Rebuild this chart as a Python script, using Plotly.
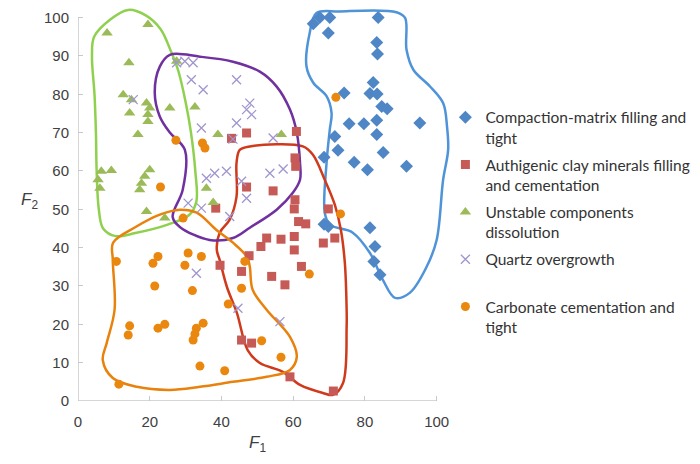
import plotly.graph_objects as go

# ---- data ----
blue_x = [65.6, 67.4, 70.2, 83.7, 69.8, 83.3, 83.5, 82.3, 74.2, 81.4, 83.4, 84.7, 86.2, 75.6, 79.7, 83.3,
          95.3, 83.3, 71.6, 72.5, 85.1, 68.6, 77.0, 80.7, 91.6, 68.6, 81.4, 82.8, 82.5, 84.2, 69.8]
blue_y = [98.4, 100, 100, 100, 96, 93.5, 90.5, 83.1, 80.3, 80.2, 80.1, 76.8, 76.2, 72.3, 72.3, 73.2,
          72.5, 69.5, 69.0, 65.4, 64.8, 63.6, 62.3, 60.3, 61.2, 46.1, 45.2, 40.3, 36.4, 32.9, 45.5]

red_x = [42.8, 47.0, 60.9, 60.5, 60.7, 47.0, 54.4, 60.5, 60.3, 38.4, 61.5, 63.5, 69.8, 52.6, 56.6, 60.3,
         51.0, 60.3, 68.4, 71.6, 47.7, 39.6, 45.6, 62.3, 54.0, 57.7, 45.6, 48.4, 59.1, 71.2]
red_y = [68.5, 69.9, 70.3, 63.4, 61.2, 55.8, 54.8, 52.5, 50.1, 50.3, 46.8, 46.2, 50.1, 42.5, 42.2, 42.9,
         40.3, 39.4, 41.2, 42.5, 37.9, 35.4, 33.8, 35.1, 32.5, 30.3, 15.9, 15.1, 6.3, 2.6]

green_x = [8.1, 19.5, 14.2, 27.5, 12.6, 14.9, 19.1, 20.0, 14.4, 19.5, 25.6, 32.6, 19.5, 16.7, 6.5, 9.3,
           5.6, 6.1, 20.0, 18.6, 17.7, 17.2, 19.1, 24.2, 39.0, 56.7, 35.8, 37.7]
green_y = [96, 98.2, 88.2, 88.6, 79.9, 78.6, 77.7, 76.4, 75.1, 74.7, 76.4, 76.7, 72.9, 69.5, 59.9, 60.1,
           57.7, 55.5, 60.3, 58.6, 56.8, 55.1, 49.4, 47.7, 69.5, 69.5, 55.5, 51.8]

purple_x = [15.4, 27.5, 29.8, 32.1, 31.6, 34.9, 34.4, 44.2, 47.9, 47.0, 48.4, 44.2, 43.2, 54.4, 38.1,
            41.4, 35.8, 53.5, 57.2, 45.6, 47.0, 34.4, 42.3, 30.7, 33.0, 44.6, 56.3]
purple_y = [78.6, 88.2, 88.6, 88.2, 83.8, 81.2, 71.2, 83.8, 77.7, 76.0, 74.7, 72.5, 68.3, 68.6, 59.4,
            59.9, 58.1, 59.4, 60.5, 57.3, 52.9, 50.3, 48.1, 51.6, 33.3, 24.2, 20.7]

orange_x = [71.9, 73.2, 64.5, 27.3, 34.7, 35.4, 23.0, 29.3, 10.7, 22.3, 30.7, 34.4, 29.8, 20.9, 21.4,
            31.9, 14.4, 14.0, 22.3, 24.2, 33.0, 34.9, 32.1, 32.6, 34.0, 11.4, 46.5, 45.6, 41.9, 40.9,
            51.2, 56.6]
orange_y = [79.2, 48.8, 33.1, 68.0, 67.3, 66.0, 55.8, 47.7, 36.4, 37.7, 38.6, 37.7, 35.4, 35.9, 30.0,
            28.8, 19.6, 17.2, 19.0, 20.0, 19.0, 20.3, 15.9, 17.5, 9.1, 4.4, 36.4, 29.4, 25.3, 7.9,
            15.7, 11.4]

# hand-drawn group outlines (data units)
blue_hull_x = [66.5, 73.0, 88.8, 91.2, 91.6, 93.5, 98.1, 101.8, 102.9, 103.2, 101.8, 100.0, 97.2, 92.5,
               88.4, 85.0, 81.4, 76.6, 70.2, 68.8, 69.3, 70.2, 70.7, 69.3, 65.6, 63.7, 64.6, 66.5]
blue_hull_y = [101.2, 101.6, 101.4, 99.9, 91.6, 86.4, 82.1, 77.7, 71.5, 65.5, 57.7, 42.0, 35.0, 28.2,
               26.9, 31.6, 38.6, 43.9, 46.0, 49.1, 62.1, 70.8, 75.1, 79.5, 83.0, 87.3, 96.0, 101.2]

red_hull_x = [45.1, 47.9, 62.7, 65.5, 68.8, 71.6, 73.3, 74.4, 74.9, 74.9, 73.9, 71.1, 68.3, 61.9, 57.1,
              50.7, 47.3, 44.3, 41.5, 39.5, 38.7, 39.5, 42.3, 44.2, 44.2, 45.1]
red_hull_y = [65.5, 66.4, 66.4, 64.2, 57.7, 51.2, 44.6, 36.0, 23.8, 19.3, 4.7, 1.6, 2.1, 4.2, 7.6,
              9.9, 13.3, 23.0, 29.8, 36.8, 39.4, 43.9, 47.3, 53.3, 62.1, 65.5]

green_hull_x = [4.5, 9.0, 14.0, 19.0, 23.0, 26.0, 28.0, 30.0, 31.5, 32.7, 33.0, 31.0, 25.0, 16.0, 10.5,
                7.0, 5.8, 5.2, 5.0, 4.6, 3.9, 4.5]
green_hull_y = [95, 99.5, 102, 100.5, 97, 91, 86, 78, 70, 60, 52, 48.5, 46, 43.8, 43, 45, 50, 60, 70,
                80, 90, 95]

purple_hull_x = [22.8, 21.4, 22.8, 25.6, 29.8, 29.2, 26.4, 28.4, 36.7, 43.2, 47.9, 55.4, 59.9, 61.9,
                 61.9, 61.0, 59.1, 55.4, 50.7, 43.2, 34.0, 25.6, 22.8]
purple_hull_y = [87.2, 80.4, 74.2, 70.0, 65.5, 55.1, 48.0, 45.4, 42.0, 42.5, 45.2, 49.9, 54.3, 57.7,
                 62.1, 70.0, 76.0, 82.0, 85.9, 88.5, 89.8, 90.3, 87.2]

orange_hull_x = [9.8, 16.3, 22.8, 28.4, 33.1, 38.6, 43.2, 47.1, 47.9, 48.7, 52.6, 59.1, 61.0, 59.1,
                 52.6, 43.2, 34.0, 25.6, 16.4, 9.7, 6.9, 8.0, 10.2, 9.7, 9.8]
orange_hull_y = [41.3, 45.5, 48.6, 49.9, 49.1, 44.6, 41.3, 37.6, 35.0, 29.0, 23.8, 16.7, 11.5, 8.1,
                 6.3, 5.0, 3.7, 2.9, 3.7, 6.0, 10.7, 15.1, 23.8, 36.8, 41.3]

x_ticks = [0, 20, 40, 60, 80, 100]
y_ticks = [0, 10, 20, 30, 40, 50, 60, 70, 80, 90, 100]

names = ["Compaction-matrix filling and<br>tight",
         "Authigenic clay minerals filling<br>and cementation",
         "Unstable components<br>dissolution",
         "Quartz overgrowth<br> ",
         "Carbonate cementation and<br>tight"]

fig = go.Figure()

hulls = [
    (blue_hull_x, blue_hull_y, "#4f93d8"),
    (red_hull_x, red_hull_y, "#cf3a1c"),
    (green_hull_x, green_hull_y, "#8fd14f"),
    (purple_hull_x, purple_hull_y, "#7030a0"),
    (orange_hull_x, orange_hull_y, "#e8820c"),
]
for hx, hy, c in hulls:
    fig.add_trace(go.Scatter(x=hx, y=hy, mode="lines", line=dict(color=c, width=2.5, shape="spline",
                                                                 smoothing=1.0),
                             showlegend=False, hoverinfo="skip"))

series = [
    (blue_x, blue_y, "diamond", "#4f86c6", 10, None),
    (red_x, red_y, "square", "#c65a57", 9, None),
    (green_x, green_y, "triangle-up", "#9bbb59", 10, None),
    (purple_x, purple_y, "x-thin", "#a195cf", 9, "#a195cf"),
    (orange_x, orange_y, "circle", "#ea870f", 9, None),
]
for i, (sx, sy, sym, c, sz, lc) in enumerate(series):
    marker = dict(symbol=sym, color=c, size=sz)
    if lc:
        marker["line"] = dict(color=lc, width=1.3)
    fig.add_trace(go.Scatter(x=sx, y=sy, mode="markers", name=names[i], marker=marker,
                             legendgroup=str(i)))

axis_col = "#c8c8c8"
fig.add_shape(type="line", x0=0, x1=100, y0=0, y1=0, xref="x", yref="y",
              line=dict(color=axis_col, width=1.5), layer="below")
fig.add_shape(type="line", x0=0, x1=0, y0=0, y1=100, xref="x", yref="y",
              line=dict(color=axis_col, width=1.5), layer="below")

fig.add_annotation(x=50, y=-0.143, xref="x", yref="paper", text="<i>F</i><sub>1</sub>",
                   showarrow=False, font=dict(size=17, color="#404040", family="Liberation Sans"))
fig.add_annotation(x=-0.157, y=0.51, xref="paper", yref="paper", text="<i>F</i><sub>2</sub>",
                   showarrow=False, font=dict(size=17, color="#404040", family="Liberation Sans"))

# page body has an 8px default margin -> figure is 8px smaller, margins shifted by 8
fig.update_layout(
    width=692, height=456,
    margin=dict(l=70, r=249, t=0, b=63, autoexpand=False),
    plot_bgcolor="white", paper_bgcolor="white",
    font=dict(family="Liberation Sans", color="#404040"),
    xaxis=dict(range=[0, 104], tickvals=x_ticks, showgrid=False, zeroline=False, showline=False,
               ticks="inside", ticklen=5, tickcolor=axis_col, tickfont=dict(size=15),
               ticklabelstandoff=10, automargin=False),
    yaxis=dict(range=[0, 102.5], tickvals=y_ticks, showgrid=False, zeroline=False, showline=False,
               ticks="inside", ticklen=5, tickcolor=axis_col, tickfont=dict(size=15),
               ticklabelstandoff=8, automargin=False),
    legend=dict(x=0.985, y=0.764, xanchor="left", yanchor="top", valign="top",
                font=dict(family="Lato", size=15.5, color="#333333"),
                tracegroupgap=4, bgcolor="rgba(0,0,0,0)"),
    showlegend=True,
)

fig.write_html("out.html")
